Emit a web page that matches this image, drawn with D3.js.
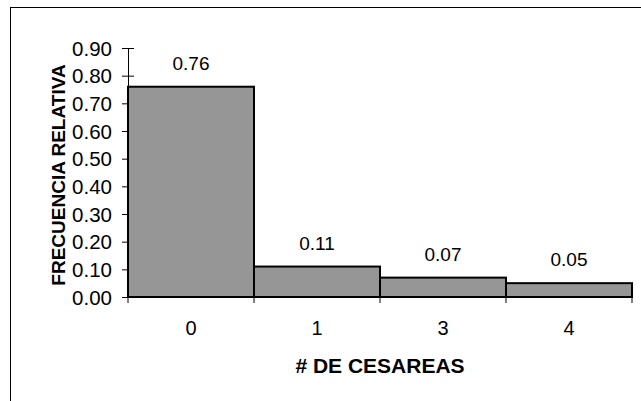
<head>
    <meta name="viewport" content="width=device-width, initial-scale=1">
    <style>
        body { margin: 0; background: #ffffff; }
        text { font-family: "Liberation Sans", Arial, sans-serif; fill: #000; }
    </style>
    <script src="https://cdnjs.cloudflare.com/ajax/libs/d3/7.8.5/d3.min.js"></script>
</head>
<body>
    <div id="chart"></div>
    <script>

        // data
        var categories = ["0", "1", "3", "4"];
        var frecuencia = [0.76, 0.11, 0.07, 0.05];
        var yTicks = [0, 0.1, 0.2, 0.3, 0.4, 0.5, 0.6, 0.7, 0.8, 0.9];

        var W = 641, H = 401;

        var margin = { top: 48, left: 128, right: 9, bottom: 104 };
        var width = W - margin.left - margin.right,
            height = H - margin.top - margin.bottom;

        var svg = d3.select("#chart").append("svg")
            .attr("width", W)
            .attr("height", H);

        // outer frame (runs off the right and bottom edges)
        svg.append("rect")
            .attr("x", 10.5)
            .attr("y", 7.5)
            .attr("width", 700)
            .attr("height", 500)
            .attr("fill", "none")
            .attr("stroke", "#000")
            .attr("stroke-width", 1);

        var focus = svg.append("g")
            .attr("transform", "translate(" + margin.left + "," + margin.top + ")");

        var x = d3.scaleBand()
            .domain(categories)
            .range([0, width])
            .padding(0);

        var y = d3.scaleLinear()
            .domain([0, 0.9])
            .range([height, 0]);

        // y axis
        var yAxis = focus.append("g")
            .call(d3.axisLeft(y).tickValues(yTicks).tickFormat(d3.format(".2f")).tickSizeInner(6).tickSizeOuter(0).tickPadding(10));
        yAxis.select(".domain").attr("stroke", "#000").attr("stroke-width", 1);
        yAxis.selectAll(".tick line").attr("x1", -6).attr("x2", 6).attr("stroke", "#000");
        yAxis.selectAll(".tick text")
            .attr("font-size", 20.5)
            .attr("font-family", "Liberation Sans, Arial, sans-serif")
            .attr("dy", "0.35em");

        // bars
        focus.append("g")
            .selectAll("rect")
            .data(frecuencia)
            .join("rect")
            .attr("x", (d, i) => x(categories[i]))
            .attr("y", d => y(d))
            .attr("width", x.bandwidth())
            .attr("height", d => height - y(d))
            .attr("fill", "#969696")
            .attr("stroke", "#000")
            .attr("stroke-width", 2);

        // x ticks at the band edges
        var edges = categories.map(c => x(c)).concat([width]);
        focus.append("g")
            .selectAll("line")
            .data(edges)
            .join("line")
            .attr("x1", d => d)
            .attr("x2", d => d)
            .attr("y1", height)
            .attr("y2", height + 6)
            .attr("stroke", "#000")
            .attr("stroke-width", 1);

        // x labels
        focus.append("g")
            .selectAll("text")
            .data(categories)
            .join("text")
            .attr("x", d => x(d) + x.bandwidth() / 2)
            .attr("y", height + 38)
            .attr("text-anchor", "middle")
            .attr("font-size", 20)
            .text(d => d);

        // value labels
        focus.append("g")
            .selectAll("text")
            .data(frecuencia)
            .join("text")
            .attr("x", (d, i) => x(categories[i]) + x.bandwidth() / 2)
            .attr("y", d => y(d) - 17)
            .attr("text-anchor", "middle")
            .attr("font-size", 19)
            .text(d => d.toFixed(2));

        // axis titles
        focus.append("text")
            .attr("x", width / 2)
            .attr("y", height + 76)
            .attr("text-anchor", "middle")
            .attr("font-size", 21)
            .attr("font-weight", "bold")
            .text("# DE CESAREAS");

        svg.append("text")
            .attr("transform", "translate(65,175) rotate(-90)")
            .attr("text-anchor", "middle")
            .attr("font-size", 19)
            .attr("font-weight", "bold")
            .text("FRECUENCIA RELATIVA");

    </script>
</body>
